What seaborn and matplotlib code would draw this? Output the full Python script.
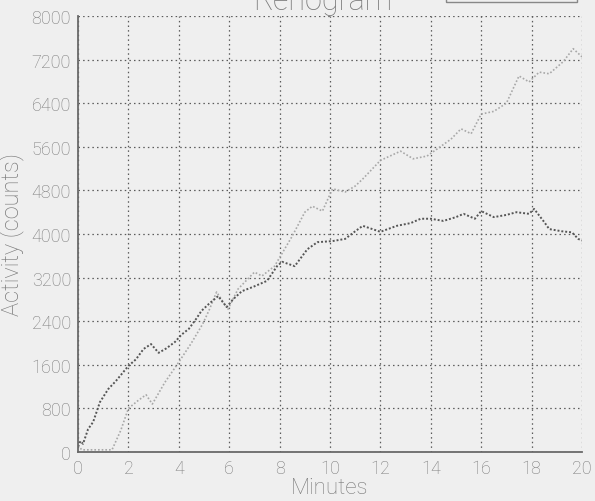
import matplotlib
matplotlib.use("Agg")
import matplotlib.pyplot as plt
import seaborn as sns
import pandas as pd
from matplotlib.patches import Rectangle

# ---- data ----
dark_t = [0.0, 0.1, 0.2, 0.4, 0.6, 0.87, 1.2, 1.5, 2.0, 2.3, 2.6, 2.9, 3.2, 3.5, 3.85,
          4.1, 4.4, 4.7, 4.9, 5.2, 5.56, 5.9, 6.15, 6.5, 6.95, 7.5, 7.9, 8.1, 8.6, 9.1,
          9.5, 10.1, 10.6, 11.0, 11.3, 12.0, 12.65, 13.2, 13.6, 14.0, 14.5, 15.0, 15.3,
          15.75, 16.0, 16.5, 17.0, 17.4, 17.9, 18.1, 18.5, 18.7, 19.2, 19.6, 19.85, 20.0]
dark_v = [100, 200, 150, 420, 550, 915, 1155, 1300, 1580, 1700, 1890, 1980, 1820, 1900, 2020,
          2150, 2260, 2450, 2590, 2720, 2860, 2660, 2800, 2950, 3030, 3140, 3410, 3490, 3410, 3720,
          3850, 3870, 3910, 4050, 4150, 4040, 4150, 4200, 4280, 4280, 4240, 4310, 4370,
          4280, 4420, 4310, 4350, 4400, 4370, 4460, 4220, 4090, 4050, 4030, 3910, 3880]

light_t = [0.0, 0.15, 1.35, 1.7, 2.0, 2.4, 2.7, 2.95, 3.45, 3.95, 4.5, 4.95, 5.2, 5.5, 5.95,
           6.35, 7.0, 7.3, 7.8, 8.5, 9.0, 9.3, 9.7, 10.1, 10.6, 11.0, 11.3, 12.0, 12.8, 13.3,
           13.85, 14.25, 14.8, 15.2, 15.6, 16.0, 16.5, 17.0, 17.5, 17.9, 18.3, 18.7, 19.25,
           19.65, 20.0]
light_v = [120, 40, 40, 400, 800, 950, 1050, 880, 1280, 1615, 2000, 2350, 2600, 2935, 2620,
           2990, 3300, 3230, 3410, 3960, 4400, 4510, 4420, 4830, 4770, 4880, 5010, 5350, 5520, 5380,
           5430, 5560, 5740, 5930, 5840, 6200, 6250, 6400, 6900, 6790, 6970, 6940, 7160,
           7400, 7250]

x_ticks = [0, 2, 4, 6, 8, 10, 12, 14, 16, 18, 20]
y_ticks = [0, 800, 1600, 2400, 3200, 4000, 4800, 5600, 6400, 7200, 8000]

title = "Renogram"
x_label = "Minutes"
y_label = "Activity (counts)"

# ---- drawing ----
sns.set_theme(style="white")
plt.rcParams['font.family'] = ['Roboto', 'DejaVu Sans']

bg = "#efefef"
txt = "#7a7a7a"
fig = plt.figure(figsize=(5.95, 5.02), dpi=100, facecolor=bg)
ax = fig.add_axes([78/595, 1-453/502, (582-78)/595, (453-17)/502])
ax.set_facecolor(bg)

dark_df = pd.DataFrame({"t": dark_t, "v": dark_v})
light_df = pd.DataFrame({"t": light_t, "v": light_v})

sns.lineplot(data=light_df, x="t", y="v", ax=ax, color="#a8a8a8",
             linestyle=(0, (1, 1.2)), linewidth=1.2)
sns.lineplot(data=dark_df, x="t", y="v", ax=ax, color="#555555",
             linestyle=(0, (1, 1)), linewidth=1.4)

ax.set_xlim(0, 20)
ax.set_ylim(0, 8000)
ax.set_xticks(x_ticks)
ax.set_yticks(y_ticks)
ax.set_xticklabels([str(v) for v in x_ticks])
ax.set_yticklabels([str(v) for v in y_ticks])
ax.tick_params(axis="both", length=0, labelsize=13, labelcolor=txt, pad=5)
for lab in ax.get_xticklabels() + ax.get_yticklabels():
    lab.set_fontweight("light")

ax.grid(True, color="#5a5a5a", linestyle=(0, (1.2, 2.5)), linewidth=0.9)
for s in ["top", "right"]:
    ax.spines[s].set_visible(False)
for s in ["left", "bottom"]:
    ax.spines[s].set_visible(True)
    ax.spines[s].set_color("#6a6a6a")
    ax.spines[s].set_linewidth(1.3)

ax.set_xlabel(x_label, fontsize=16, color=txt, fontweight="light", labelpad=0)
ax.set_ylabel(y_label, fontsize=17, color=txt, fontweight="light", labelpad=5)

fig.text(323/595, 1-10/502, title, ha="center", va="baseline",
         fontsize=22, color=txt, fontweight="light")
fig.patches.append(Rectangle((446/595, 1-3/502), 131/595, 0.05,
                             transform=fig.transFigure, fill=False,
                             edgecolor="#888888", linewidth=1.0))

fig.savefig("out.png", dpi=100, facecolor=bg)
